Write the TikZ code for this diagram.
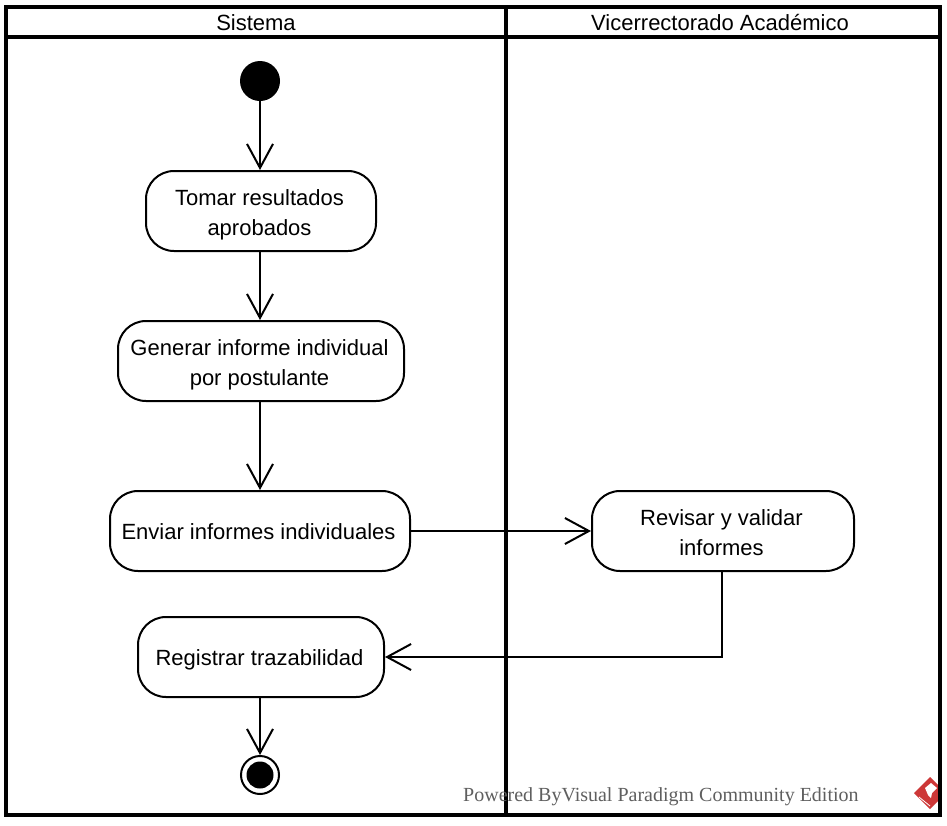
\documentclass[tikz,border=0pt]{standalone}
\usepackage{fontspec}
\setmainfont{Liberation Sans}
\newfontfamily\wmfont{Liberation Serif}
\usetikzlibrary{arrows.meta,positioning}
\definecolor{wmgray}{RGB}{95,95,95}
\definecolor{wmred}{RGB}{205,55,55}
\newcommand\actline[1]{#1\kern3pt}
\newcommand\actdrop[1]{\rule{0pt}{#1}}
\tikzset{
  x=1pt,y=-1pt,
  lanetitle/.style={font=\fontsize{22}{24}\selectfont,inner sep=0pt,anchor=center},
  act/.style={draw=black,line width=2pt,rounded corners=28pt,inner sep=0pt,align=center,font=\fontsize{22}{30}\selectfont,fill=white,minimum height=80pt},
  flow/.style={draw=black,line width=2pt,-{Straight Barb[length=24pt,width=26pt,line width=2pt]}},
  startdot/.style={circle,fill=black,minimum size=40pt,inner sep=0pt},
  endring/.style={circle,draw=black,line width=2pt,minimum size=38pt,inner sep=0pt,fill=white},
  enddot/.style={circle,fill=black,minimum size=27pt,inner sep=0pt},
}
\begin{document}
\begin{tikzpicture}
\useasboundingbox (0,0) rectangle (947,825);
\fill[white] (0,0) rectangle (947,825);
% lanes
\draw[line width=4pt] (6,37) -- (940,37);
\draw[line width=4pt] (506,7) -- (506,815);
\node[lanetitle] (sis) at (256,23) {Sistema};
\node[lanetitle] (vic) at (720,23) {Vicerrectorado Académico};
% nodes
\node[startdot] (start) at (260,81) {};
\node[act,minimum width=230pt] (n1) at (261,211) {\actdrop{24pt}\actline{Tomar resultados}\\\actline{aprobados}};
\node[act,minimum width=286pt] (n2) at (261,361) {\actdrop{24pt}\actline{Generar informe individual}\\\actline{por postulante}};
\node[act,minimum width=300pt] (n3) at (260,531) {\actdrop{18pt}\actline{Enviar informes individuales}};
\node[act,minimum width=262pt] (n4) at (723,531) {\actdrop{20pt}\actline{Revisar y validar}\\\actline{informes}};
\node[act,minimum width=246pt] (n5) at (261,657) {\actdrop{22pt}\actline{Registrar trazabilidad}};
\node[endring] (end) at (260,775) {};
\node[enddot] (endin) at (260,775) {};
% flows
\draw[flow] (start) -- (start|-n1.north);
\draw[flow] (n1.south-|start) -- (start|-n2.north);
\draw[flow] (n2.south-|start) -- (start|-n3.north);
\draw[flow] (n3) -- (n4);
\coordinate (turn) at (722,657);
\draw[flow] (turn|-n4.south) -- (turn) -- (n5);
\draw[flow] (n5.south-|start) -- (end);
% watermark
\node[anchor=base west,inner sep=0pt,text=wmgray,font=\wmfont\fontsize{20}{22}\selectfont] (wm) at (463,801) {Powered ByVisual Paradigm Community Edition};
\fill[wmred] (930,777) -- (946,793) -- (930,809) -- (914,793) -- cycle;
\fill[white] (925,788) -- (931,783) -- (937,788) -- (932,793) -- (931,798) -- (928,795) -- cycle;
\draw[white,line width=.8pt] (919,797) -- (930,806);
\fill[white] (942,770) rectangle (947,825);
\draw[line width=4pt] (6,7) rectangle (940,815);
\end{tikzpicture}
\end{document}
